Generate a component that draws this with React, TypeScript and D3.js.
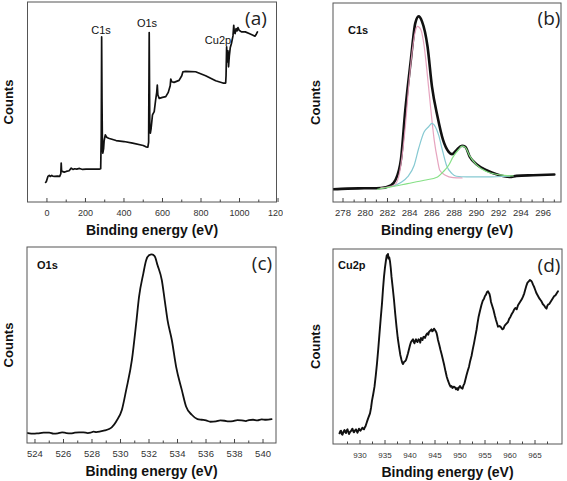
import React from 'react';
import * as d3 from 'd3';

// ---------- Panel (a): survey spectrum ----------
const surveyEV = [-7, -3, 5, 12, 17, 25, 30, 40, 55, 66, 72, 74, 76, 79, 90, 100, 115, 126, 135, 143, 155, 169, 185, 203, 240, 272, 279, 282, 284, 286, 288, 290, 294, 297, 303, 310, 320, 359, 400, 445, 500, 514, 524, 528, 531, 534, 537, 541, 548, 557, 565, 570, 573, 576, 583, 600, 617, 630, 640, 643, 648, 660, 686, 700, 706, 720, 772, 824, 876, 914, 928, 930, 933, 935, 937, 940, 943, 947, 952, 958, 966, 970, 973, 977, 982, 987, 992, 998, 1010, 1030, 1050, 1070, 1080, 1087, 1093];
const surveyCounts = [59, 62, 77, 80, 77, 80, 78, 77, 78, 77, 85, 117, 95, 92, 90, 92, 94, 102, 98, 100, 99, 101, 98, 99, 99, 99, 100, 200, 497, 300, 170, 147, 160, 185, 202, 195, 192, 185, 182, 177, 170, 166, 165, 180, 510, 220, 207, 222, 262, 272, 310, 330, 352, 322, 312, 315, 317, 330, 350, 370, 362, 360, 366, 380, 392, 393, 392, 380, 365, 358, 358, 380, 467, 440, 422, 455, 407, 440, 465, 477, 500, 532, 510, 507, 522, 515, 525, 517, 512, 512, 507, 502, 499, 505, 512];

// ---------- Panel (b): C1s ----------
const c1sEV = [277.1, 278.4, 279.9, 281.4, 282.3, 282.7, 283.2, 283.6, 284.1, 284.5, 284.8, 285.1, 285.6, 286.0, 286.5, 287.0, 287.5, 287.8, 288.2, 288.7, 289.0, 289.4, 290.0, 290.9, 291.8, 293.0, 293.6, 295.1, 297.0];
const c1sCounts = [38, 40, 41, 42, 50, 65, 125, 275, 425, 535, 555, 540, 465, 345, 255, 185, 150, 143, 155, 168, 165, 135, 113, 95, 83, 75, 78, 80, 82];
const c1sPinkEV = [281.4, 282.6, 283.0, 283.3, 283.6, 283.9, 284.2, 284.5, 284.7, 285.0, 285.3, 285.6, 285.9, 286.2, 286.5, 286.7, 287.2, 287.9, 288.7];
const c1sPinkCounts = [42, 50, 75, 135, 225, 345, 445, 510, 525, 515, 465, 375, 275, 185, 125, 95, 80, 73, 72];
const c1sCyanEV = [282.6, 283.2, 283.8, 284.4, 284.8, 285.3, 285.7, 286.0, 286.3, 286.6, 286.9, 287.3, 287.8, 288.2, 289.1, 290.9, 293.0];
const c1sCyanCounts = [48, 58, 75, 110, 160, 210, 225, 235, 225, 200, 160, 110, 85, 77, 75, 75, 77];
const c1sGreenEV = [281.1, 282.3, 283.8, 285.3, 286.5, 287.0, 287.5, 287.9, 288.4, 288.7, 289.0, 289.4, 290.0, 290.9, 292.1, 293.3];
const c1sGreenCounts = [38, 45, 55, 65, 75, 90, 110, 135, 157, 167, 163, 137, 111, 91, 81, 78];

// ---------- Panel (c): O1s ----------
const o1sEV = [523.5, 523.9, 524.2, 524.6, 525.0, 525.3, 525.6, 525.9, 526.2, 526.5, 526.8, 527.1, 527.4, 527.7, 527.9, 528.1, 528.3, 528.6, 528.9, 529.2, 529.4, 529.7, 530.1, 530.4, 530.8, 531.1, 531.3, 531.6, 531.8, 532.0, 532.2, 532.4, 532.6, 532.9, 533.1, 533.3, 533.6, 533.9, 534.3, 534.6, 535.0, 535.4, 535.7, 536.0, 536.3, 536.7, 537.0, 537.3, 537.6, 537.9, 538.2, 538.5, 538.8, 539.0, 539.3, 539.6, 539.9, 540.2, 540.6];
const o1sCounts = [30, 28, 29, 31, 31, 28, 29, 32, 30, 29, 31, 32, 32, 30, 31, 34, 33, 35, 38, 42, 48, 65, 100, 160, 250, 360, 440, 510, 550, 565, 568, 562, 535, 490, 430, 370, 310, 230, 160, 110, 85, 72, 70, 68, 64, 65, 68, 67, 65, 66, 69, 68, 66, 69, 70, 68, 71, 70, 72];

// ---------- Panel (d): Cu2p ----------
const cu2pEV = [925.9, 926.05, 926.2, 926.35, 926.5, 926.7, 926.9, 927.05, 927.2, 927.35, 927.5, 927.65, 927.8, 928.0, 928.2, 928.35, 928.5, 928.65, 928.8, 929.0, 929.2, 929.35, 929.5, 929.65, 929.8, 929.95, 930.1, 930.3, 930.5, 930.65, 930.8, 930.95, 931.1, 931.25, 931.4, 931.7, 932.0, 932.2, 932.4, 932.65, 932.9, 933.15, 933.4, 933.65, 933.9, 934.15, 934.4, 934.6, 934.8, 935.0, 935.2, 935.35, 935.5, 935.6, 935.7, 935.85, 936.0, 936.15, 936.3, 936.55, 936.8, 937.05, 937.3, 937.55, 937.8, 938.05, 938.3, 938.45, 938.6, 938.8, 939.0, 939.2, 939.4, 939.6, 939.8, 940.0, 940.2, 940.4, 940.6, 940.75, 940.9, 941.05, 941.2, 941.35, 941.5, 941.7, 941.9, 942.05, 942.2, 942.35, 942.5, 942.65, 942.8, 943.0, 943.2, 943.35, 943.5, 943.65, 943.8, 944.05, 944.3, 944.45, 944.6, 944.8, 945.0, 945.15, 945.3, 945.45, 945.6, 945.85, 946.1, 946.35, 946.6, 946.85, 947.1, 947.35, 947.6, 947.85, 948.1, 948.3, 948.5, 948.75, 949.0, 949.2, 949.4, 949.6, 949.8, 950.0, 950.25, 950.5, 950.7, 950.9, 951.1, 951.3, 951.55, 951.8, 952.05, 952.3, 952.55, 952.8, 953.05, 953.3, 953.5, 953.7, 954.0, 954.3, 954.55, 954.8, 955.0, 955.2, 955.4, 955.6, 955.75, 955.9, 956.05, 956.2, 956.45, 956.7, 956.95, 957.2, 957.4, 957.6, 957.9, 958.2, 958.45, 958.7, 958.9, 959.1, 959.35, 959.6, 959.85, 960.1, 960.35, 960.6, 960.85, 961.1, 961.35, 961.6, 961.85, 962.1, 962.35, 962.6, 962.85, 963.1, 963.3, 963.5, 963.75, 964.0, 964.2, 964.4, 964.6, 964.8, 965.05, 965.3, 965.6, 965.9, 966.1, 966.3, 966.55, 966.8, 967.05, 967.3, 967.45, 967.6, 967.85, 968.1, 968.35, 968.6, 968.85, 969.1, 969.35, 969.6];
const cu2pCounts = [32, 38, 40, 30, 28, 37, 42, 35, 33, 41, 44, 36, 30, 36, 39, 43, 46, 38, 35, 41, 44, 38, 34, 40, 46, 42, 40, 45, 49, 45, 44, 50, 53, 60, 67, 80, 92, 108, 130, 150, 172, 205, 242, 285, 332, 378, 422, 465, 502, 530, 552, 566, 560, 570, 556, 560, 548, 528, 502, 468, 432, 390, 352, 318, 292, 268, 252, 244, 240, 246, 248, 252, 262, 272, 284, 296, 306, 310, 314, 306, 302, 310, 314, 308, 306, 314, 312, 304, 318, 314, 312, 320, 322, 318, 326, 330, 332, 328, 336, 340, 344, 338, 340, 346, 342, 338, 334, 324, 312, 298, 282, 268, 252, 236, 218, 202, 190, 180, 172, 174, 168, 172, 170, 164, 168, 162, 170, 174, 168, 166, 176, 182, 194, 206, 220, 232, 250, 264, 284, 302, 322, 342, 362, 380, 400, 418, 430, 436, 444, 448, 456, 458, 454, 450, 440, 426, 414, 402, 386, 372, 362, 352, 354, 350, 344, 346, 354, 358, 362, 366, 376, 382, 390, 396, 404, 408, 404, 416, 422, 428, 434, 442, 452, 466, 476, 484, 488, 492, 490, 486, 478, 472, 462, 452, 444, 436, 432, 428, 420, 416, 410, 406, 414, 418, 420, 426, 432, 438, 444, 446, 452, 458];

const surveyMajor = [0, 200, 400, 600, 800, 1000, 1200];
const surveyMinor = [100, 300, 500, 700, 900, 1100];
const c1sMajor = [278, 280, 282, 284, 286, 288, 290, 292, 294, 296];
const c1sMinor = [277, 279, 281, 283, 285, 287, 289, 291, 293, 295, 297];
const o1sMajor = [524, 526, 528, 530, 532, 534, 536, 538, 540];
const o1sMinor = [525, 527, 529, 531, 533, 535, 537, 539];
const cu2pMajor = [930, 935, 940, 945, 950, 955, 960, 965];
const cu2pMinor = [927.5, 932.5, 937.5, 942.5, 947.5, 952.5, 957.5, 962.5, 967.5];

type Series = { xs: number[]; ys: number[]; color: string; width: number; opacity?: number; smooth?: boolean };
type Frame = { left: number; right: number; top: number; bottom: number };

const FONT = "'Liberation Sans', Arial, sans-serif";

function Panel(props: {
  id: string;
  frame: Frame;
  xDomain: [number, number];
  yDomain: [number, number];
  major: number[];
  minor: number[];
  series: Series[];
  letter: string;
  letterX: number;
  letterY: number;
  countsX: number;
  tickSize: number;
  clipRight?: number;
  children?: React.ReactNode;
}) {
  const { frame, xDomain, yDomain, major, minor, series } = props;
  const x = d3.scaleLinear().domain(xDomain).range([frame.left, frame.right]);
  const y = d3.scaleLinear().domain(yDomain).range([frame.bottom, frame.top]);
  const midX = (frame.left + frame.right) / 2;
  const midY = (frame.top + frame.bottom) / 2;
  const clipId = 'clip-' + props.id;
  return (
    <g clipPath={props.clipRight ? `url(#${clipId}-outer)` : undefined}>
      <defs>
        <clipPath id={clipId}>
          <rect x={frame.left} y={frame.top} width={frame.right - frame.left} height={frame.bottom - frame.top} />
        </clipPath>
        {props.clipRight ? (
          <clipPath id={`${clipId}-outer`}>
            <rect x={0} y={0} width={props.clipRight} height={481} />
          </clipPath>
        ) : null}
      </defs>
      <g clipPath={`url(#${clipId})`}>
        {series.map((s, i) => {
          const pts: [number, number][] = s.xs.map((v, k) => [v, s.ys[k]]);
          const line = d3
            .line<[number, number]>()
            .curve(s.smooth ? d3.curveMonotoneX : d3.curveLinear)
            .x((d) => x(d[0]))
            .y((d) => y(d[1]));
          return (
            <path
              key={i}
              d={line(pts) || ''}
              fill="none"
              stroke={s.color}
              strokeWidth={s.width}
              strokeOpacity={s.opacity ?? 1}
              strokeLinejoin="round"
              strokeLinecap="round"
            />
          );
        })}
      </g>
      <rect
        x={frame.left}
        y={frame.top}
        width={frame.right - frame.left}
        height={frame.bottom - frame.top}
        fill="none"
        stroke="#555"
        strokeWidth={1}
      />
      {major.map((t) => (
        <g key={'M' + t}>
          <line x1={x(t)} x2={x(t)} y1={frame.bottom} y2={frame.bottom - 4} stroke="#444" strokeWidth={1} />
          <text x={x(t)} y={frame.bottom + 13.5} textAnchor="middle" fontFamily={FONT} fontSize={props.tickSize} fill="#333">
            {t}
          </text>
        </g>
      ))}
      {minor.map((t) =>
        x(t) > frame.left + 1 && x(t) < frame.right - 1 ? (
          <line key={'m' + t} x1={x(t)} x2={x(t)} y1={frame.bottom} y2={frame.bottom - 2.5} stroke="#444" strokeWidth={1} />
        ) : null
      )}
      <text x={midX} y={frame.bottom + 33} textAnchor="middle" fontFamily={FONT} fontSize={14} fontWeight="bold" fill="#111">
        Binding energy (eV)
      </text>
      <text
        transform={`translate(${props.countsX},${midY}) rotate(-90)`}
        textAnchor="middle"
        dominantBaseline="central"
        fontFamily={FONT}
        fontSize={13}
        fontWeight="bold"
        fill="#111"
      >
        Counts
      </text>
      <text
        x={props.letterX}
        y={props.letterY}
        textAnchor="middle"
        dominantBaseline="central"
        fontFamily="'Open Sans', 'DejaVu Sans', sans-serif"
        fontSize={19}
        fill="#222"
      >
        {props.letter}
      </text>
      {props.children}
    </g>
  );
}

export default function App() {
  return (
    <svg
      width={567}
      height={481}
      viewBox="0 0 567 481"
      style={{ position: 'fixed', left: 0, top: 0, background: '#fff' }}
    >
      <rect x={0} y={0} width={567} height={481} fill="#fff" />
      <Panel
        id="a"
        frame={{ left: 27.5, right: 276.5, top: 2, bottom: 202 }}
        xDomain={[-101, 1192]}
        yDomain={[0, 602]}
        major={surveyMajor}
        minor={surveyMinor}
        series={[{ xs: surveyEV, ys: surveyCounts, color: '#111', width: 1.7 }]}
        letter="(a)"
        letterX={256}
        letterY={18}
        countsX={8}
        tickSize={9}
        clipRight={283}
      >
        <text x={101} y={34} textAnchor="middle" fontFamily={FONT} fontSize={11} fill="#111">C1s</text>
        <text x={147} y={27} textAnchor="middle" fontFamily={FONT} fontSize={11} fill="#111">O1s</text>
        <text x={218} y={44} textAnchor="middle" fontFamily={FONT} fontSize={11} fill="#111">Cu2p</text>
      </Panel>
      <Panel
        id="b"
        frame={{ left: 333, right: 561, top: 3, bottom: 202 }}
        xDomain={[277.1, 297.6]}
        yDomain={[0, 595]}
        major={c1sMajor}
        minor={c1sMinor}
        series={[
          { xs: c1sEV, ys: c1sCounts, color: '#111', width: 2.6, smooth: true },
          { xs: c1sPinkEV, ys: c1sPinkCounts, color: '#e39ab8', width: 1.2, opacity: 0.9, smooth: true },
          { xs: c1sCyanEV, ys: c1sCyanCounts, color: '#86c9d2', width: 1.2, smooth: true },
          { xs: c1sGreenEV, ys: c1sGreenCounts, color: '#86e086', width: 1.2, smooth: true },
        ]}
        letter="(b)"
        letterX={549}
        letterY={18}
        countsX={315}
        tickSize={9.5}
      >
        <text x={348} y={34} fontFamily={FONT} fontSize={11} fontWeight="bold" fill="#111">C1s</text>
      </Panel>
      <Panel
        id="c"
        frame={{ left: 27, right: 276, top: 247, bottom: 443 }}
        xDomain={[523.44, 540.91]}
        yDomain={[0, 590]}
        major={o1sMajor}
        minor={o1sMinor}
        series={[{ xs: o1sEV, ys: o1sCounts, color: '#111', width: 1.8, smooth: true }]}
        letter="(c)"
        letterX={262}
        letterY={263}
        countsX={8}
        tickSize={9.5}
      >
        <text x={37} y={269} fontFamily={FONT} fontSize={11} fontWeight="bold" fill="#111">O1s</text>
      </Panel>
      <Panel
        id="d"
        frame={{ left: 333, right: 562, top: 249, bottom: 444 }}
        xDomain={[924.6, 970.4]}
        yDomain={[0, 585]}
        major={cu2pMajor}
        minor={cu2pMinor}
        series={[{ xs: cu2pEV, ys: cu2pCounts, color: '#111', width: 1.9 }]}
        letter="(d)"
        letterX={549}
        letterY={265}
        countsX={315}
        tickSize={8}
      >
        <text x={338} y={269} fontFamily={FONT} fontSize={11} fontWeight="bold" fill="#111">Cu2p</text>
      </Panel>
    </svg>
  );
}
